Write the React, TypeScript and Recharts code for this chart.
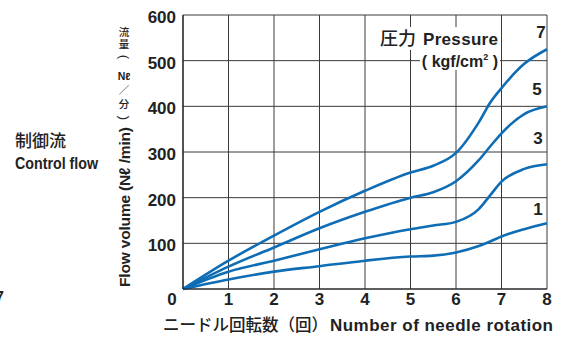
import React from 'react';
import { LineChart, Line, XAxis, YAxis, CartesianGrid } from 'recharts';

// needle rotations (x) and flow per pressure (kgf/cm2)
const rotations = [0, 1, 2, 3, 4, 5, 5.5, 6, 6.5, 6.75, 7, 7.5, 8];
const flowP1 = [0, 21, 38, 50, 62, 71, 73, 80, 94, 104, 115, 131, 144];
const flowP3 = [0, 38, 62, 87, 111, 131, 139, 147, 175, 205, 235, 263, 273];
const flowP5 = [0, 49, 91, 133, 169, 200, 212, 236, 282, 312, 341, 383, 400];
const flowP7 = [0, 62, 117, 169, 215, 255, 270, 298, 365, 408, 440, 493, 525];

const xTicks = [0, 1, 2, 3, 4, 5, 6, 7, 8];
const yTicks = [0, 100, 200, 300, 400, 500, 600];

const seriesNames = ['1', '3', '5', '7'];

const chartData = rotations.map((r, i) => ({
  rot: r,
  p1: flowP1[i],
  p3: flowP3[i],
  p5: flowP5[i],
  p7: flowP7[i],
}));

const FONT = "'Liberation Sans', 'Noto Sans CJK JP', sans-serif";
const CJK = "'Noto Sans CJK JP', sans-serif";
const BLUE = '#0f6db5';
const INK = '#222';

// per-line end label offset (dx, dy)
const endLabelOffset: Record<string, [number, number]> = {
  p1: [-9, -8],
  p3: [-9, -20],
  p5: [-10, -11],
  p7: [-6, -11],
};

function XTick(props: any) {
  const { x, y, payload } = props;
  const dx = payload.value === 0 ? -11 : 0;
  return (
    <text x={x + dx} y={y + 8} textAnchor="middle" fontSize={17} fontWeight="bold" fill={INK} fontFamily={FONT}>
      {payload.value}
    </text>
  );
}

function YTick(props: any) {
  const { x, y, payload } = props;
  if (payload.value === 0) return null;
  return (
    <text x={x + 1} y={y + 8} textAnchor="end" fontSize={17} fontWeight="bold" fill={INK} fontFamily={FONT}>
      {payload.value}
    </text>
  );
}

function makeEndLabel(key: string, name: string) {
  return (props: any) => {
    const { x, y, index } = props;
    if (index !== rotations.length - 1) return null;
    const [dx, dy] = endLabelOffset[key];
    return (
      <text key={key} x={x + dx} y={y + dy} textAnchor="middle" fontSize={17} fontWeight="bold" fill={INK} fontFamily={FONT}>
        {name}
      </text>
    );
  };
}

// upright japanese part of the y title: [text, baseline y]
const yTitleJa: [string, number][] = [
  ['流', 36],
  ['量', 48],
  ['Nℓ', 80],
  ['／', 94],
  ['分', 108],
];
// parentheses turned for vertical writing: [char, centre y]
const yTitleParens: [string, number][] = [
  ['(', 57],
  [')', 118],
];

export default function App() {
  const keys = ['p1', 'p3', 'p5', 'p7'];
  return (
    <div style={{ position: 'absolute', left: 0, top: 0, width: 567, height: 338, background: '#fff', overflow: 'hidden' }}>
      <LineChart
        width={567}
        height={338}
        data={chartData}
        margin={{ top: 15, right: 20, left: 123, bottom: 19 }}
      >
        <CartesianGrid stroke="#3a3a3a" strokeWidth={1} />
        <XAxis
          dataKey="rot"
          type="number"
          domain={[0, 8]}
          ticks={xTicks}
          tick={<XTick />}
          tickLine={false}
          axisLine={{ stroke: INK, strokeWidth: 1.2 }}
          height={30}
        />
        <YAxis
          type="number"
          domain={[0, 600]}
          ticks={yTicks}
          tick={<YTick />}
          tickLine={false}
          axisLine={{ stroke: INK, strokeWidth: 1.2 }}
          width={60}
        />
        {keys.map((k, i) => (
          <Line
            key={k}
            dataKey={k}
            type="monotone"
            stroke={BLUE}
            strokeWidth={2.6}
            dot={false}
            isAnimationActive={false}
            label={makeEndLabel(k, seriesNames[i])}
          />
        ))}
      </LineChart>

      <svg width={567} height={338} style={{ position: 'absolute', left: 0, top: 0, pointerEvents: 'none' }}>
        {/* pressure legend, white box hides grid behind it */}
        <rect x={402} y={27} width={98} height={23} fill="#fff" />
        <rect x={420} y={50} width={80} height={20} fill="#fff" />
        <text x={380} y={45} fontFamily={CJK} fontWeight={500} fontSize={18} fill={INK}>圧力</text>
        <text x={423} y={45} fontFamily={FONT} fontSize={17} fontWeight="bold" fill={INK} textLength={75} lengthAdjust="spacing">
          Pressure
        </text>
        <text x={498} y={67} textAnchor="end" fontFamily={FONT} fontSize={16} fontWeight="bold" fill={INK}>
          ( kgf/cm
          <tspan fontSize={9} dy={-7}>2</tspan>
          <tspan dy={7}> )</tspan>
        </text>

        {/* y title, upright japanese */}
        {yTitleJa.map(([ch, y]) => (
          <text
            key={ch}
            x={124}
            y={y}
            textAnchor="middle"
            fontFamily={ch === 'Nℓ' ? FONT : CJK}
            fontWeight={ch === 'Nℓ' ? 'bold' : 500}
            fontSize={10.5}
            fill={INK}
          >
            {ch}
          </text>
        ))}
        {yTitleParens.map(([ch, y]) => (
          <text
            key={ch}
            x={124}
            y={y}
            textAnchor="middle"
            dominantBaseline="central"
            transform={`rotate(90 124 ${y})`}
            fontFamily={FONT}
            fontSize={13}
            fill={INK}
          >
            {ch}
          </text>
        ))}
        {/* y title, rotated english */}
        <text
          x={130}
          y={287}
          transform="rotate(-90 130 287)"
          fontFamily={FONT}
          fontSize={15.5}
          fontWeight="bold"
          fill={INK}
          textLength={160}
          lengthAdjust="spacing"
        >
          Flow volume (Nℓ /min)
        </text>

        {/* x title */}
        <text x={163} y={331} fontFamily={CJK} fontWeight={500} fontSize={16.5} fill={INK} textLength={165} lengthAdjust="spacing">
          ニードル回転数（回）
        </text>
        <text x={330} y={331} fontFamily={FONT} fontWeight="bold" fontSize={17} fill={INK} textLength={223} lengthAdjust="spacing">
          Number of needle rotation
        </text>

        {/* side note */}
        <text x={15} y={147} fontFamily={CJK} fontWeight={500} fontSize={17} fill={INK}>制御流</text>
        <text x={15} y={169} fontFamily={FONT} fontWeight="bold" fontSize={16} fill={INK} textLength={83} lengthAdjust="spacingAndGlyphs">
          Control flow
        </text>
        <text x={-5} y={303} fontFamily={FONT} fontWeight="bold" fontSize={16} fill={INK}>7</text>
      </svg>
    </div>
  );
}
